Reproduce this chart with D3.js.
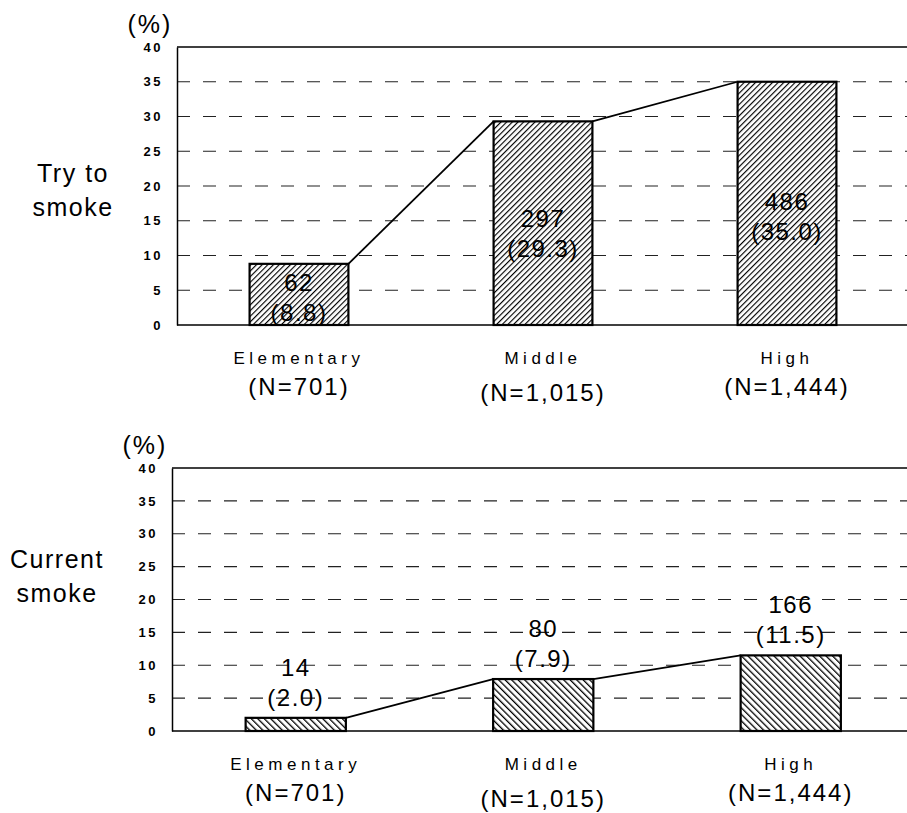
<!DOCTYPE html>
<html><head><meta charset="utf-8">
<script src="https://cdn.jsdelivr.net/npm/d3@7"></script>
<style>
html,body{margin:0;padding:0;background:#fff;}
svg{display:block;font-family:Arial,"Liberation Sans",sans-serif;}
</style></head>
<body>
<svg id="c" width="907" height="813"></svg>
<script>
const categories = ["Elementary", "Middle", "High"];
const sampleN = ["(N=701)", "(N=1,015)", "(N=1,444)"];
const tryCounts = [62, 297, 486];
const tryPct = [8.8, 29.3, 35.0];
const currentCounts = [14, 80, 166];
const currentPct = [2.0, 7.9, 11.5];
const yTicks = [0, 5, 10, 15, 20, 25, 30, 35, 40];

const svg = d3.select("#c");
const defs = svg.append("defs");

function hatch(id, pitch, dir, sw) {
  const p = defs.append("pattern").attr("id", id)
    .attr("patternUnits", "userSpaceOnUse")
    .attr("width", pitch).attr("height", pitch)
    .attr("patternTransform", `rotate(${dir})`);
  p.append("rect").attr("width", pitch).attr("height", pitch).attr("fill", "#fff");
  p.append("line").attr("x1", 0).attr("y1", 0).attr("x2", 0).attr("y2", pitch)
    .attr("stroke", "#000").attr("stroke-width", sw);
}
hatch("hTop", 4, 45, 2.3);
hatch("hBot", 4.6, -45, 2.6);

function panel(opt) {
  const g = svg.append("g");
  const x = d3.scaleBand().domain(categories)
    .range([opt.left, opt.left + 3 * opt.step])
    .paddingInner(0.595).paddingOuter(0.2975);
  const y = d3.scaleLinear().domain([0, 40]).range([opt.bottom, opt.top]);

  // gridlines
  g.selectAll("line.grid").data(yTicks.filter(t => t > 0 && t < 40)).join("line")
    .attr("x1", opt.left).attr("x2", 907)
    .attr("y1", d => y(d)).attr("y2", d => y(d))
    .attr("stroke", "#222").attr("stroke-width", 1.1)
    .attr("stroke-dasharray", "13,13");
  // top border
  g.append("line").attr("x1", opt.left).attr("x2", 907)
    .attr("y1", y(40)).attr("y2", y(40)).attr("stroke", "#000").attr("stroke-width", 1.3);

  // y axis
  const ax = g.append("g").attr("transform", `translate(${opt.left},0)`)
    .call(d3.axisLeft(y).tickValues(yTicks).tickSize(0).tickPadding(14));
  ax.select(".domain").attr("stroke", "#000").attr("stroke-width", 1.5);
  ax.selectAll("text").attr("font-size", 13).attr("font-weight", "bold")
    .attr("letter-spacing", "2.5px").attr("fill", "#000")
    .attr("font-family", "Arial, 'Liberation Sans', sans-serif");

  // baseline
  g.append("line").attr("x1", opt.left).attr("x2", 907)
    .attr("y1", y(0)).attr("y2", y(0)).attr("stroke", "#000").attr("stroke-width", 1.5);

  // bars
  g.selectAll("rect.bar").data(opt.pct).join("rect")
    .attr("x", (d, i) => x(categories[i]))
    .attr("y", d => y(d))
    .attr("width", x.bandwidth())
    .attr("height", d => y(0) - y(d))
    .attr("fill", `url(#${opt.hatch})`)
    .attr("stroke", "#000").attr("stroke-width", 2.2);

  // connecting line
  const pts = [];
  for (let i = 0; i < opt.pct.length - 1; i++) {
    pts.push([[x(categories[i]) + x.bandwidth(), y(opt.pct[i])],
              [x(categories[i + 1]), y(opt.pct[i + 1])]]);
  }
  g.selectAll("path.conn").data(pts).join("path")
    .attr("d", d => d3.line()(d)).attr("fill", "none")
    .attr("stroke", "#000").attr("stroke-width", 1.8);

  // value labels
  opt.pct.forEach((v, i) => {
    const cx = x(categories[i]) + x.bandwidth() / 2;
    const base = opt.inside ? y(v * 0.45) + 24 : y(v) - 12;
    const t = g.append("text").attr("text-anchor", "middle")
      .attr("font-size", 24).attr("letter-spacing", "1.5px").attr("fill", "#000");
    t.append("tspan").attr("x", cx).attr("y", base - 30).text(opt.counts[i]);
    t.append("tspan").attr("x", cx).attr("y", base).text(`(${v.toFixed(1)})`);
  });

  // category labels
  categories.forEach((c, i) => {
    const cx = x(c) + x.bandwidth() / 2;
    g.append("text").attr("x", cx).attr("y", y(0) + 39)
      .attr("text-anchor", "middle").attr("font-size", 17)
      .attr("letter-spacing", "4.5px").attr("fill", "#000").text(c);
    g.append("text").attr("x", cx).attr("y", y(0) + 70 + (i === 1 ? 6 : 0))
      .attr("text-anchor", "middle").attr("font-size", 24)
      .attr("letter-spacing", "2px").attr("fill", "#000").text(sampleN[i]);
  });

  // (%) label
  g.append("text").attr("x", opt.left - 27).attr("y", y(40) - 14)
    .attr("text-anchor", "middle").attr("font-size", 25)
    .attr("letter-spacing", "2px").attr("fill", "#000").text("(%)");

  // side title
  const st = g.append("text").attr("text-anchor", "middle")
    .attr("font-size", 25).attr("letter-spacing", "1.5px").attr("fill", "#000");
  opt.title.forEach((line, k) => {
    st.append("tspan").attr("x", opt.titleX).attr("y", opt.titleY + k * 34).text(line);
  });
}

panel({ left: 177, step: 244, top: 47, bottom: 325, pct: tryPct, counts: tryCounts,
        hatch: "hTop", inside: true, title: ["Try to", "smoke"], titleX: 73, titleY: 182 });
panel({ left: 172, step: 247.5, top: 468, bottom: 731, pct: currentPct, counts: currentCounts,
        hatch: "hBot", inside: false, title: ["Current", "smoke"], titleX: 57, titleY: 568 });
</script>
</body></html>
